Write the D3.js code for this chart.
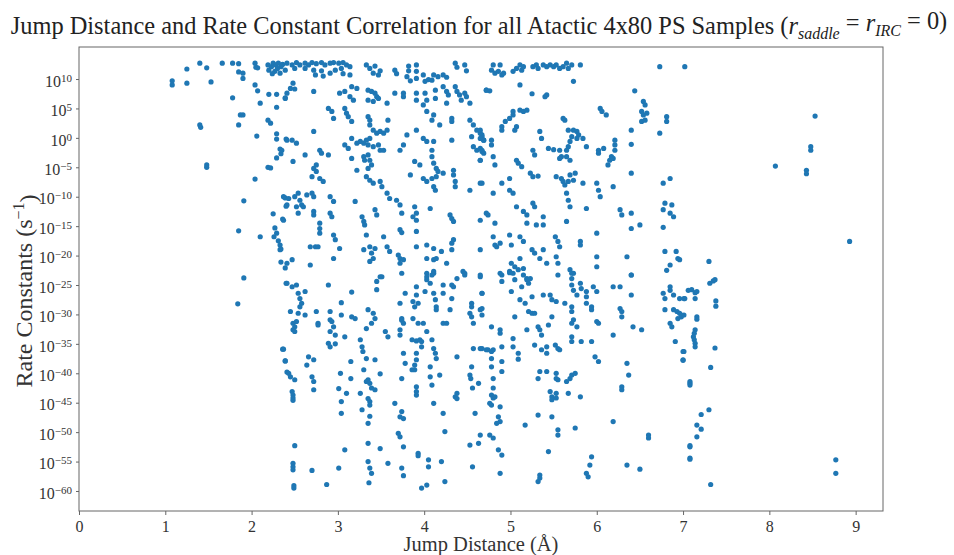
<!DOCTYPE html>
<html><head><meta charset="utf-8">
<script src="https://cdn.jsdelivr.net/npm/d3@7"></script>
<style>body{margin:0;background:#fff}svg{display:block}</style>
</head><body>
<svg id="chart" width="954" height="555"></svg>
<script>
// [jump distance (Å), log10 of rate constant (s^-1)]
const samplesLeft = [[1.08,9.7],[1.08,9.0],[1.25,11.7],[1.25,9.3],[1.40,12.7],[1.48,11.9],[1.53,9.5],[1.66,12.7],[1.78,12.7],[1.85,12.6],[1.85,11.2],[1.90,11.0],[1.90,10.1],[2.04,12.7],[2.05,12.0],[2.07,11.9],
[2.19,12.4],[2.23,12.1],[2.25,12.7],[2.28,12.4],[2.31,12.7],[2.34,12.1],[2.20,11.5],[2.27,11.3],[2.30,11.8],[2.24,10.9],[2.36,12.5],[2.33,11.0],
[1.78,6.8],[2.04,9.0],[2.07,8.0],[2.10,5.9],[2.20,7.4],[2.29,7.4],[2.29,5.2],[2.39,6.8],[1.87,3.9],[1.90,3.9],[1.85,2.2],[1.40,2.2],[1.41,1.8],[2.19,3.0],[2.22,2.5],[2.06,0.3],[2.29,0.7],[2.29,-0.2],[2.40,-0.2],[2.33,-1.9],[2.34,-2.7],[2.29,-3.4],[1.48,-4.6],[1.48,-5.0],[2.19,-5.0],[2.22,-5.1],[2.04,-7.0],[1.91,-10.7],[2.39,-10.2],[2.40,-11.6],[2.25,-12.9],[2.36,-13.8],[1.85,-15.8],[2.10,-16.8],[2.27,-15.3],[2.29,-16.2],[2.26,-16.8],[2.31,-17.5],[2.33,-18.2],[2.34,-18.9],[2.34,-21.1],[2.39,-22.1],[1.91,-23.8],[2.40,-24.7],[1.84,-28.2],[2.36,-35.9],[2.39,-37.9],[2.41,-39.8]];

const samplesMidTop = [[2.35,12.4],[2.41,12.7],[2.47,12.4],[2.52,12.8],[2.56,12.4],[2.62,12.7],[2.66,12.4],[2.70,12.8],[2.75,12.6],[2.81,12.8],[2.85,12.4],[2.91,12.7],[2.95,12.8],[3.01,12.7],[3.06,12.8],[3.10,12.4],[3.14,12.1],
[2.39,11.5],[2.50,11.8],[2.62,11.8],[2.72,11.5],[2.74,10.7],[2.81,11.4],[2.83,10.5],[2.91,11.0],[2.97,11.5],[3.04,11.8],[3.06,10.9],[3.14,10.7],
[3.33,12.4],[3.37,11.8],[3.43,12.2],[3.49,11.4],[3.41,11.0],[3.47,10.7],[3.66,11.5],[3.68,10.9],[3.82,12.2],[3.82,11.4],[3.91,12.4],[3.91,11.3],[3.91,10.1],[3.80,10.4],[3.84,9.7],
[3.99,10.7],[4.05,9.9],[4.11,10.7],[4.16,10.4],[4.22,10.7],[4.26,10.3],[4.01,9.6],[4.09,9.8],[4.36,12.7],[4.38,12.0],[4.47,12.4],[4.49,11.4],
[2.48,9.3],[2.45,8.4],[2.41,7.6],[2.39,6.7],[2.50,8.3],[2.72,7.9],[3.02,7.6],[3.08,7.9],[3.14,7.0],[3.16,8.7],[3.18,6.4],[3.22,8.4],[3.35,8.1],[3.39,7.9],[3.43,7.6],[3.45,7.0],[3.47,6.7],[3.35,6.4],[3.41,6.2],[3.57,5.9],[3.66,7.6],[3.76,7.6],[3.76,7.0],[3.91,7.6],[3.91,6.4],[4.01,7.6],[4.03,6.4],[4.13,8.1],[4.13,6.7],[4.22,8.7],[4.26,7.9],[4.28,7.3],[4.36,8.7],[4.38,7.9],[4.41,7.3],[4.43,6.4],[4.47,7.6],[4.49,7.0],[4.53,5.9],[4.26,5.9],[4.72,8.1],
[2.89,5.0],[2.93,4.5],[2.95,3.3],[3.08,5.0],[3.10,4.2],[3.12,3.6],[3.16,2.8],[3.35,3.6],[3.37,3.0],[3.37,2.2],[3.41,1.3],[3.45,0.8],[3.49,1.1],[3.53,0.8],[3.58,3.0],[3.57,1.3],[3.37,-0.1],[3.33,-0.4],[3.26,-0.6],[3.16,-0.1],[2.72,1.1],[2.41,-0.4],[2.47,-0.4],[2.52,-0.9],[2.35,-2.1],
[3.80,0.5],[3.91,1.3],[3.99,-0.1],[4.03,-0.6],[4.11,-0.6],[3.99,5.6],[4.03,4.5],[4.11,3.9],[4.09,3.0],[4.18,2.2],[4.32,3.3],[4.32,2.8],[4.32,-0.4],[4.53,3.0],[4.57,2.2],[4.61,1.3],[4.65,0.8],[4.67,0.2],[4.69,-0.4],[4.55,0.2],[4.57,-1.5],[4.61,-2.1],[4.65,-1.8],[4.67,-2.3]];

const samplesMidUpper = [[3.08,-1.2],[3.12,-1.8],[3.22,-0.9],[3.30,-0.9],[3.35,-1.2],[3.41,-1.5],[3.47,-1.2],[3.49,-2.1],[3.53,-2.1],
[2.79,-2.1],[2.81,-2.6],[2.89,-2.9],[2.62,-2.9],[2.48,-4.0],[2.75,-4.6],[2.72,-5.2],[2.70,-6.6],[2.75,-5.7],[2.79,-6.9],[2.83,-7.4],[3.16,-3.5],[3.30,-3.2],[3.31,-3.8],[3.35,-2.9],[3.37,-3.8],[3.39,-4.6],[3.35,-5.2],[3.22,-5.5],[3.33,-6.6],[3.37,-7.2],[3.41,-7.7],[3.49,-7.4],[3.51,-8.3],
[3.72,-2.1],[3.76,-1.2],[3.89,-4.0],[3.95,-4.6],[4.09,-2.1],[4.09,-3.2],[4.11,-4.3],[4.14,-5.2],[4.16,-5.7],[4.22,-6.0],[4.34,-5.5],[4.34,-6.3],[3.84,-6.3],[3.99,-6.9],[4.03,-7.4],[4.09,-6.9],[4.11,-8.3],[4.13,-8.9],[4.14,-6.6],[4.36,-7.4],[4.36,-8.3],[4.53,-8.9],[4.65,-3.8],[4.67,-7.7],
[2.37,-10.0],[2.43,-10.3],[2.50,-10.0],[2.54,-9.4],[2.56,-10.6],[2.58,-11.4],[2.64,-9.7],[2.70,-9.4],[2.72,-10.0],[2.41,-11.4],[2.52,-11.7],[2.60,-11.7],[2.54,-12.8],[2.72,-12.5],[2.72,-13.1],[2.91,-10.0],[2.95,-10.8],[2.91,-12.8],[2.93,-13.4],[2.37,-14.0],[2.79,-14.5],[3.20,-10.8],[3.28,-13.4],[3.30,-14.2],[3.31,-14.8],[3.43,-12.2],[3.45,-13.1],[3.33,-16.5],[3.57,-9.4],[3.60,-10.3],[3.68,-10.6],[3.72,-11.4],[3.74,-12.8],[3.89,-11.7],[3.91,-12.8],[3.87,-13.4],[3.91,-14.0],[4.07,-12.0],[4.30,-13.1],[4.32,-13.7],[4.34,-14.2],[4.65,-14.0],[4.72,-12.8],[3.72,-15.6],[3.74,-16.1],[3.91,-15.9],
[2.33,-19.0],[2.47,-20.7],[2.41,-21.3],[2.68,-18.5],[2.74,-18.5],[2.77,-18.5],[2.68,-21.6],[2.79,-15.4],[2.79,-16.2],[2.95,-16.5],[2.97,-17.3],[3.02,-18.8],[2.95,-20.5],[3.30,-19.0],[3.37,-18.5],[3.43,-18.8],[3.41,-20.5],[3.39,-19.6],[3.53,-16.8],[3.57,-18.5],[3.60,-19.3],[3.37,-21.0],[3.70,-19.9],[3.72,-20.5],[3.76,-20.7],[3.72,-21.3],[3.91,-18.5],[4.03,-18.2],[4.11,-18.8],[4.03,-20.5],[4.11,-20.7],[4.14,-20.5],[4.20,-19.3],[4.34,-17.3],[4.32,-17.9],[4.32,-19.0],[4.26,-21.3],[3.49,-23.6],[3.74,-23.0],[4.03,-23.0],[4.11,-23.0],[4.45,-22.7],[4.65,-23.6]];

const samplesMidLower = [[2.41,-24.7],[2.47,-25.3],[2.52,-25.0],[2.54,-26.4],[2.56,-27.3],[2.58,-28.1],[2.56,-28.7],[2.62,-26.1],[2.45,-29.5],[2.54,-29.8],[2.62,-30.1],[2.48,-31.5],[2.50,-32.1],[2.52,-31.2],[2.48,-32.6],[2.50,-32.9],[2.37,-35.9],[2.39,-37.9],[2.43,-40.0],[2.45,-40.6],[2.50,-41.1],[2.47,-43.1],[2.48,-43.7],[2.48,-44.2],[2.48,-44.6],[2.50,-52.3],[2.48,-55.3],[2.48,-55.9],[2.48,-56.4],[2.49,-59.1],[2.49,-59.5],
[2.66,-37.2],[2.64,-38.6],[2.72,-37.7],[2.70,-40.6],[2.72,-41.4],[2.72,-42.8],[2.75,-29.5],[2.77,-31.5],[2.77,-31.8],[2.89,-25.0],[2.91,-29.5],[2.91,-30.9],[2.93,-31.2],[2.95,-32.1],[2.97,-33.5],[2.91,-32.9],[2.89,-34.9],[2.91,-35.5],[2.97,-35.0],[3.04,-28.0],[3.04,-30.1],[3.08,-33.8],[3.16,-26.2],[3.16,-30.4],[3.20,-30.7],[3.15,-38.0],[3.15,-40.9],[3.03,-40.0],[3.01,-42.6],[3.04,-44.8],[3.04,-46.8],[3.10,-43.4],
[3.26,-34.3],[3.28,-35.5],[3.29,-36.3],[3.30,-39.4],[3.33,-37.5],[3.35,-29.2],[3.41,-29.8],[3.43,-30.7],[3.39,-31.5],[3.33,-32.4],[3.45,-24.4],[3.45,-25.8],[3.51,-23.6],[3.35,-41.1],[3.33,-41.4],[3.37,-41.7],[3.39,-42.5],[3.43,-42.8],[3.43,-37.7],[3.49,-40.1],[3.35,-44.3],[3.37,-44.8],[3.37,-45.4],[3.35,-48.5],[3.37,-47.3],[3.28,-46.2],[3.26,-43.4],[3.35,-51.9],[3.49,-52.8],[3.35,-55.0],[3.37,-56.1],[3.39,-57.0],[3.36,-58.6],[3.58,-55.3],[3.01,-56.1],[3.08,-53.0],[2.70,-56.5],[2.87,-58.9],
[3.55,-32.9],[3.58,-33.8],[3.66,-45.1],[3.72,-28.1],[3.72,-32.6],[3.72,-33.5],[3.74,-30.7],[3.74,-31.0],[3.76,-31.5],[3.78,-26.4],[3.76,-36.6],[3.78,-38.3],[3.74,-40.9],[3.72,-47.4],[3.76,-47.7],[3.74,-46.5],[3.70,-50.2],[3.72,-50.8],[3.76,-52.5],[3.74,-56.1],[3.76,-57.4],
[3.87,-27.8],[3.89,-28.7],[3.91,-26.7],[3.91,-25.3],[3.93,-28.1],[3.87,-30.7],[3.93,-31.5],[3.99,-31.5],[3.86,-34.3],[3.91,-34.5],[3.95,-34.3],[3.97,-34.6],[3.97,-35.5],[3.91,-36.6],[3.91,-37.7],[3.89,-38.6],[3.89,-39.4],[3.86,-39.4],[3.91,-42.3],[3.91,-43.1],[3.91,-43.7],[3.93,-53.6],[3.93,-54.0],
[4.03,-23.6],[4.03,-24.1],[4.09,-23.3],[4.11,-22.7],[4.07,-24.7],[4.11,-26.4],[4.13,-27.5],[4.14,-28.7],[4.14,-29.2],[4.22,-25.0],[4.22,-26.4],[4.01,-26.1],[4.03,-32.9],[4.09,-34.3],[4.11,-35.8],[4.13,-36.6],[4.14,-37.5],[4.07,-38.9],[4.07,-40.6],[4.09,-42.0],[4.18,-40.3],[4.11,-45.1],[4.05,-54.7],[4.05,-55.9],[4.03,-59.0],[3.97,-59.5],[4.22,-46.8],[4.24,-49.9],[4.20,-55.0],[4.24,-58.4],
[4.32,-25.0],[4.34,-25.3],[4.32,-27.3],[4.30,-29.2],[4.22,-31.5],[4.26,-31.5],[4.38,-23.9],[4.47,-23.0],[4.47,-23.3],[4.65,-23.3],[4.67,-26.4],[4.55,-28.1],[4.55,-28.7],[4.53,-29.8],[4.55,-30.4],[4.57,-31.5],[4.65,-29.2],[4.67,-30.1],[4.38,-37.2],[4.38,-43.4],[4.36,-44.0],[4.38,-44.3],[4.57,-35.8],[4.67,-35.8],[4.74,-36.0],[4.55,-38.9],[4.53,-40.3],[4.54,-40.9],[4.56,-42.5],[4.63,-41.7],[4.76,-45.1],[4.59,-46.8],[4.65,-50.5],[4.63,-51.9],[4.53,-52.2],[4.56,-55.9]];

const samplesRightTop = [[4.80,12.4],[4.78,11.5],[4.82,11.0],[4.86,11.3],[4.90,10.7],[4.92,11.0],[4.88,12.4],[5.03,11.3],[5.07,11.8],[5.11,12.4],[5.13,11.5],[5.15,12.1],[5.26,12.1],[5.30,12.4],[5.32,11.8],[5.38,12.4],[5.42,12.1],[5.46,12.4],[5.50,12.1],[5.53,12.4],[5.57,11.8],[5.61,12.1],[5.65,12.7],[5.67,11.8],[5.71,12.4],[5.81,12.4],[5.11,9.0],[5.73,9.6],[4.72,8.1],[4.76,8.0],[5.25,7.5],[5.40,7.0],[5.42,7.3],[6.44,8.0],[6.73,12.1],[7.02,12.1],
[5.03,4.5],[5.03,3.9],[5.11,4.7],[5.15,4.5],[5.19,4.7],[4.99,3.3],[4.94,2.8],[4.90,1.9],[4.90,1.3],[5.05,1.3],[5.07,1.9],[5.61,3.3],[5.63,3.0],[6.04,5.0],[6.06,4.5],[6.11,3.9],[6.54,6.2],[6.56,5.6],[6.52,4.5],[6.54,3.9],[6.58,4.2],[6.52,2.8],[6.56,3.0],[6.81,3.6],[6.81,2.8],[6.73,0.8],[6.40,1.3],[6.40,-1.1],
[5.34,1.1],[5.36,-0.1],[5.67,1.3],[5.73,1.3],[5.77,1.1],[5.79,0.5],[5.77,-0.1],[5.71,0.2],[5.69,-0.6],[5.67,-1.5],[5.65,-2.1],[5.84,-0.1],[5.88,-1.5],[6.21,-0.4],[6.21,-1.2],[6.21,-2.1],[6.02,-2.1],[6.02,-2.6],[6.08,-1.8],[6.17,-3.2],[6.15,-3.8],[6.19,-3.5],[6.13,-4.6],[5.44,-1.8],[5.50,-2.0],[5.57,-2.1],[5.26,-2.1],[5.28,-2.9],[5.59,-3.2],[5.65,-3.2],[5.69,-3.8],[5.57,-3.5],
[4.65,1.3],[4.67,0.5],[4.69,-0.4],[4.65,-0.1],[4.78,-0.4],[4.78,-1.2],[4.69,-2.6],[4.80,-3.2],[4.82,-4.6],[4.65,-3.8],[4.67,-2.1],[5.07,-3.8],[5.09,-4.3],[5.13,-4.9],[5.23,-6.0],[5.26,-6.6],[5.32,-6.5],[5.53,-6.6],[5.59,-6.9],[5.61,-7.4],[5.63,-8.0],[5.67,-7.4],[5.69,-6.3],[5.73,-7.2],[5.75,-6.0],[5.84,-7.7],[6.00,-7.7],[6.02,-8.9],[6.04,-10.0],[6.19,-8.3],[6.40,-6.0],[6.77,-7.7],[6.85,-6.9],
[4.65,-7.7],[4.80,-9.4],[4.90,-7.7],[4.99,-8.9],[5.03,-9.4],[4.99,-6.9],[5.07,-11.7],[5.15,-12.5],[5.19,-13.1],[5.26,-11.1],[5.28,-11.7],[5.38,-13.4],[5.65,-9.4],[5.67,-10.6],[5.69,-11.7],[5.88,-12.0],[6.27,-12.2],[6.29,-13.1],[6.40,-12.8],[6.79,-11.1],[6.87,-11.4],[6.77,-12.2],[6.85,-12.8],[6.89,-13.4],
[4.74,-13.1],[4.82,-14.5],[5.19,-14.5],[5.30,-14.8],[5.38,-14.8],[5.65,-14.2],[6.00,-16.2],[6.40,-15.4],[6.50,-14.8],[6.77,-15.2],
[4.80,-16.8],[4.84,-18.5],[4.82,-18.2],[4.88,-17.9],[4.99,-16.5],[5.01,-18.2],[5.11,-16.8],[5.15,-17.6],[5.25,-19.0],[5.28,-19.6],[5.38,-19.0],[5.52,-16.8],[5.55,-17.6],[5.57,-18.5],[5.81,-17.6],[5.81,-18.2],[6.00,-20.2],[6.00,-21.9],[6.35,-20.2],[6.79,-19.3],[6.92,-19.3],[6.94,-20.5],[6.85,-21.6],[6.96,-20.7],
[4.65,-19.0],[5.01,-21.3],[5.05,-21.9],[5.11,-20.5],[5.09,-22.4],[5.15,-22.2],[5.19,-23.9],[5.34,-20.5],[5.42,-21.3],[5.53,-20.2],[5.55,-21.3],[5.69,-22.4],[5.73,-23.0],[6.40,-23.3],[4.88,-23.0],[4.99,-22.9],[6.81,-22.5]];

const samplesRightLower = [[4.90,-23.3],[4.90,-24.4],[4.99,-22.7],[5.03,-23.0],[5.05,-24.1],[5.15,-23.3],[5.19,-24.1],[5.21,-24.7],[5.23,-23.9],[5.13,-25.3],[5.01,-26.1],[5.11,-27.5],[5.17,-28.1],[5.25,-27.0],[5.38,-26.7],[5.46,-26.7],[5.48,-27.5],[5.53,-27.8],[5.55,-23.3],[5.71,-23.0],[5.71,-23.9],[5.71,-25.0],[5.73,-25.9],[5.81,-24.7],[5.82,-25.6],[5.77,-26.7],[5.88,-26.1],[5.88,-27.0],[5.96,-25.3],[6.00,-26.1],[5.88,-28.1],[5.94,-28.7],[5.94,-29.2],[5.63,-28.1],[5.71,-28.7],[5.71,-29.5],[5.73,-30.9],[5.77,-32.1],[5.71,-31.5],[6.00,-31.2],[6.02,-31.5],[6.19,-33.5],[6.19,-25.3],[6.27,-25.3],[6.40,-23.3],[6.40,-26.7],[6.27,-29.0],[6.29,-29.5],[6.29,-30.4],[6.42,-32.1],[6.52,-32.6],
[4.67,-26.4],[4.67,-29.0],[4.78,-32.1],[4.88,-32.6],[4.88,-33.2],[5.05,-30.4],[5.21,-29.5],[5.25,-29.8],[5.28,-29.8],[5.19,-32.6],[5.32,-32.1],[5.34,-32.6],[5.36,-33.5],[5.44,-31.8],[5.48,-30.4],[4.65,-35.8],[4.72,-36.0],[4.78,-36.3],[4.78,-37.5],[4.80,-36.0],[4.90,-38.0],[4.90,-35.5],[5.03,-35.5],[5.03,-34.1],[5.09,-36.6],[5.09,-37.6],[5.28,-35.2],[5.36,-36.0],[5.42,-35.5],[5.42,-36.6],[5.52,-35.2],[5.55,-35.8],[5.57,-36.0],[5.71,-33.8],[5.71,-34.6],[5.82,-34.6],[5.94,-34.6],[5.98,-37.2],[6.02,-38.0],[6.35,-38.3],[6.37,-40.3],
[4.78,-38.9],[4.90,-39.7],[4.80,-40.9],[4.80,-42.5],[4.78,-43.7],[4.80,-44.2],[4.82,-44.0],[4.78,-45.4],[4.88,-45.7],[4.86,-47.4],[4.88,-48.2],[4.84,-48.5],[4.76,-50.5],[4.80,-51.0],[4.86,-53.0],[4.90,-53.9],[4.88,-57.0],
[5.34,-39.7],[5.32,-40.9],[5.42,-39.7],[5.53,-40.0],[5.53,-40.9],[5.55,-41.1],[5.65,-41.4],[5.69,-40.9],[5.71,-40.3],[5.75,-40.0],[5.67,-43.4],[5.81,-44.0],[5.46,-43.1],[5.48,-44.0],[5.48,-44.5],[5.53,-43.4],[5.53,-44.2],[5.32,-47.1],[5.48,-47.4],[5.17,-48.8],[5.55,-49.6],[5.55,-50.5],[5.75,-49.3],[5.44,-53.3],[5.94,-54.2],[5.92,-55.6],[5.88,-57.0],[5.90,-57.6],[5.34,-57.3],[5.34,-57.8],[5.32,-58.4],
[6.29,-42.3],[6.29,-42.8],[6.19,-48.2],[6.60,-50.5],[6.60,-51.0],[6.35,-55.6],[6.50,-56.3],
[6.77,-26.4],[6.79,-27.3],[6.85,-25.3],[6.85,-25.9],[6.89,-26.7],[6.96,-27.3],[7.02,-27.3],[6.79,-29.2],[6.89,-29.2],[6.93,-29.5],[6.96,-29.8],[6.98,-30.4],[6.94,-30.7],[6.85,-31.5],[6.87,-32.1],[6.91,-34.6],[7.00,-36.3],[7.00,-37.7],[7.06,-25.9],[7.08,-41.7],[7.08,-52.5],[7.08,-54.4]];

const samplesFarRight = [[8.53,3.7],[8.48,-1.5],[8.48,-2.1],[8.07,-4.8],[8.43,-5.5],[8.43,-6.1],[8.93,-17.6],[7.30,-21.0],[7.31,-24.7],[7.35,-24.3],[7.37,-24.1],[7.10,-25.8],[7.14,-26.3],[7.16,-26.1],[7.14,-27.3],[7.01,-27.3],[7.38,-27.7],[7.38,-28.6],[6.98,-30.1],[7.01,-30.1],[7.16,-30.4],[7.16,-30.8],[7.14,-32.6],[7.13,-33.2],[7.12,-33.8],[7.13,-34.3],[7.14,-34.9],[7.14,-35.5],[7.37,-35.7],[7.01,-36.3],[7.00,-37.8],[7.32,-39.0],[7.08,-41.4],[7.08,-42.0],[7.30,-46.2],[7.21,-47.0],[7.16,-48.8],[7.21,-49.5],[7.16,-50.8],[7.08,-52.3],[7.08,-54.6],[7.32,-58.9],[8.77,-54.7],[8.77,-57.0]];

const xTicks = [0,1,2,3,4,5,6,7,8,9];
const yTickExponents = [10,5,0,-5,-10,-15,-20,-25,-30,-35,-40,-45,-50,-55,-60];

const allSamples = [].concat(samplesLeft, samplesMidTop, samplesMidUpper, samplesMidLower, samplesRightTop, samplesRightLower, samplesFarRight);

const svg = d3.select("#chart");
const m = {left:79, right:883, top:47, bottom:511};
const x = d3.scaleLinear().domain([0, 9.317]).range([m.left, m.right]);
const y = d3.scaleLog().domain([Math.pow(10,-63.4), Math.pow(10,15.44)]).range([m.bottom, m.top]);
const serif = "'Liberation Serif','DejaVu Serif',serif";

// points
svg.append("g").selectAll("circle").data(allSamples).join("circle")
  .attr("cx", d => x(d[0])).attr("cy", d => y(Math.pow(10, d[1])))
  .attr("r", 2.6).attr("fill", "#1f77b4");

// frame
svg.append("rect").attr("x", m.left).attr("y", m.top)
  .attr("width", m.right - m.left).attr("height", m.bottom - m.top)
  .attr("fill", "none").attr("stroke", "#666").attr("stroke-width", 1);

// x axis
const xa = svg.append("g").attr("transform", `translate(0,${m.bottom})`)
  .call(d3.axisBottom(x).tickValues(xTicks).tickSize(4).tickFormat(d3.format("d")));
xa.select(".domain").remove();
xa.selectAll("line").attr("stroke", "#666");
xa.selectAll("text").attr("font-family", serif).attr("font-size", 16).attr("fill", "#333").attr("dy", "0.85em");

// y axis
const ya = svg.append("g").attr("transform", `translate(${m.left},0)`)
  .call(d3.axisLeft(y).tickValues(yTickExponents.map(e => Math.pow(10, e))).tickSize(3).tickFormat(() => ""));
ya.select(".domain").remove();
ya.selectAll("line").attr("stroke", "#666");
ya.selectAll(".tick").each(function(d) {
  const e = Math.round(Math.log10(d));
  const t = d3.select(this).select("text").text(null)
    .attr("x", -7).attr("dy", "0.45em").attr("text-anchor", "end")
    .attr("font-family", serif).attr("font-size", 16).attr("fill", "#333");
  t.append("tspan").text("10");
  t.append("tspan").attr("dy", "-0.45em").attr("font-size", 11)
    .text(e < 0 ? "\u2212" + Math.abs(e) : String(e));
});

// axis labels
svg.append("text").attr("x", (m.left + m.right) / 2).attr("y", 551)
  .attr("text-anchor", "middle").attr("font-family", serif).attr("font-size", 20.5).attr("fill", "#333")
  .text("Jump Distance (Å)");
const yl = svg.append("text").attr("transform", `translate(32,${(m.top + m.bottom) / 2 + 12}) rotate(-90)`)
  .attr("text-anchor", "middle").attr("font-family", serif).attr("font-size", 24).attr("fill", "#333");
yl.append("tspan").text("Rate Constants (s");
yl.append("tspan").attr("dy", "-0.5em").attr("font-size", 16).text("\u22121");
yl.append("tspan").attr("dy", "0.5em").text(")");

// title
const tt = svg.append("text").attr("x", 479).attr("y", 34).attr("text-anchor", "middle")
  .attr("font-family", serif).attr("font-size", 24.4).attr("fill", "#222");
tt.append("tspan").text("Jump Distance and Rate Constant Correlation for all Atactic 4x80 PS Samples (");
tt.append("tspan").attr("font-style", "italic").text("r");
tt.append("tspan").attr("font-style", "italic").attr("font-size", 16).attr("dy", "0.3em").text("saddle");
tt.append("tspan").attr("dy", "-0.3em").text(" = ");
tt.append("tspan").attr("font-style", "italic").text("r");
tt.append("tspan").attr("font-style", "italic").attr("font-size", 16).attr("dy", "0.3em").text("IRC");
tt.append("tspan").attr("dy", "-0.3em").text(" = 0)");
</script>
</body></html>
